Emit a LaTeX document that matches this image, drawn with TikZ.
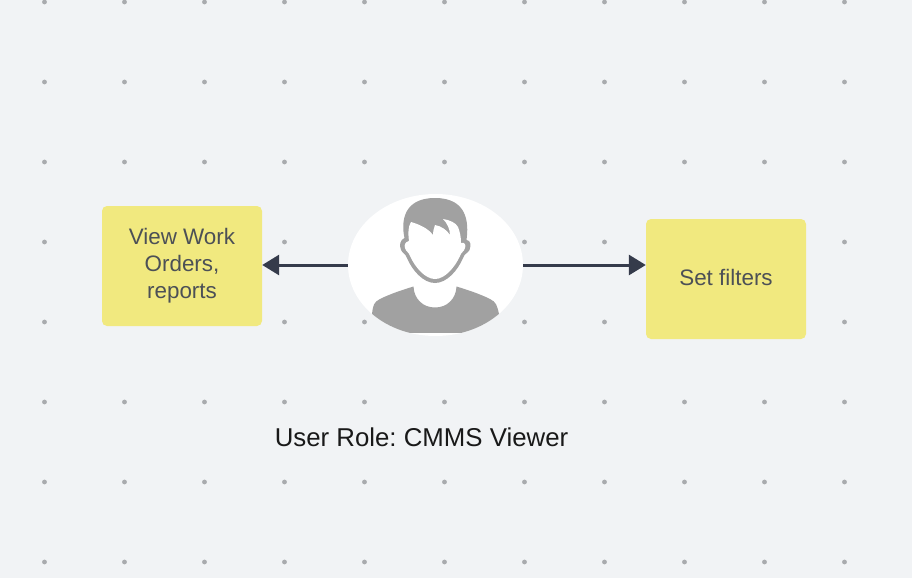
\documentclass[tikz,border=0pt]{standalone}
\usepackage{fontspec}
\setmainfont{Liberation Sans}
\usetikzlibrary{shapes.geometric,arrows.meta}
\definecolor{fondo}{HTML}{F1F3F5}
\definecolor{punto}{HTML}{A9ABAE}
\definecolor{nota}{HTML}{F1E97F}
\definecolor{letra}{HTML}{4C5056}
\definecolor{flecha}{HTML}{353B4B}
\definecolor{silueta}{HTML}{A1A1A1}
\tikzset{
  nota/.style={fill=nota, rounded corners=5pt, minimum width=160pt, minimum height=120pt,
    inner sep=0pt, align=center, text=letra, font=\fontsize{22.4}{27}\selectfont},
  conector/.style={draw=flecha, line width=3pt, -{Triangle[length=17pt,width=20pt]}}
}
\begin{document}
\begin{tikzpicture}[x=1pt, y=-1pt]

    % Fondo
    \fill[fondo] (0, 0) rectangle (912, 578);
    \useasboundingbox (0, 0) rectangle (912, 578);

    % Puntos
    \foreach \px in {44.5, 124.5, 204.5, 284.5, 364.5, 444.5, 524.5, 604.5, 684.5, 764.5, 844.5}
      \foreach \py in {2, 82, 162, 242, 322, 402, 482, 562}
        \fill[punto] (\px, \py) circle (2.4pt);

    % Notas
    \node[nota] (ordenes) at (182, 266) {View Work\\Orders,\\reports};
    \node[nota, text depth=3pt] (filtros) at (726, 279) {Set filters};

    % Usuario
    \node[ellipse, fill=white, inner sep=0pt, minimum width=175pt, minimum height=142pt] (usuario) at (435.5, 265) {};
    \begin{scope}
      \clip (435.5, 265) ellipse (87.5pt and 71pt);
      \clip (340, 190) rectangle (530, 332.5);
      \fill[silueta] (372, 314) .. controls (373, 305) and (374, 302) .. (380, 299)
        .. controls (390, 294) and (402, 290) .. (413.5, 286.5)
        .. controls (414, 299) and (423, 307.5) .. (435, 307.5)
        .. controls (447, 307.5) and (456, 299) .. (456.5, 286.5)
        .. controls (468, 290) and (480, 294) .. (490, 299)
        .. controls (496, 302) and (497, 305) .. (499, 314) -- (499, 340) -- (372, 340) -- cycle;
    \end{scope}
    \fill[silueta] (404.5, 238) .. controls (401, 222) and (403, 198) .. (435, 198)
      .. controls (467, 198) and (469, 222) .. (466.5, 240)
      .. controls (471, 240) and (471, 246) .. (469.5, 250)
      .. controls (467, 254) and (465, 253) .. (463, 258)
      .. controls (458, 270) and (447, 283) .. (435, 283)
      .. controls (423, 283) and (412, 270) .. (407, 258)
      .. controls (405, 253) and (403, 254) .. (401, 250)
      .. controls (399, 245) and (400, 240) .. (404.5, 238) -- cycle;
    \fill[white] (409, 241) .. controls (408, 233) and (408, 227) .. (411, 222)
      .. controls (418, 224) and (428, 228) .. (433, 235)
      .. controls (433, 231) and (434, 228) .. (435, 225)
      .. controls (441, 226) and (447, 230) .. (450, 235)
      .. controls (450, 229) and (447, 223) .. (443, 219)
      .. controls (450, 220) and (456, 223) .. (458, 227)
      .. controls (460, 232) and (461, 237) .. (461, 243)
      .. controls (465, 242) and (466, 245) .. (465, 248)
      .. controls (464, 252) and (461, 252) .. (460, 256)
      .. controls (455, 267) and (445, 279) .. (435, 279)
      .. controls (425, 279) and (415, 267) .. (410, 256)
      .. controls (409, 252) and (406, 252) .. (405, 248)
      .. controls (404, 245) and (405, 242) .. (409, 241) -- cycle;

    % Conectores
    \draw[conector] (usuario.west) -- (usuario.west -| ordenes.east);
    \draw[conector] (usuario.east) -- (usuario.east -| filtros.west);

    % Etiquetas
    \node[text=black!90, font=\fontsize{25.8}{30}\selectfont, inner sep=0pt] (rol) at (421.5, 437) {\frenchspacing User Role: CMMS Viewer};

\end{tikzpicture}
\end{document}
